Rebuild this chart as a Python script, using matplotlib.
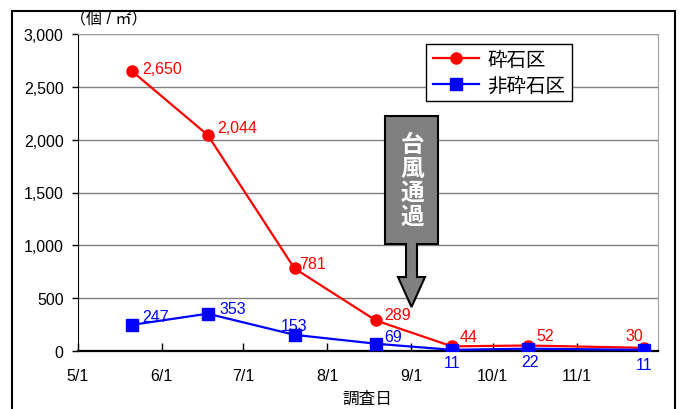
import numpy as np
import matplotlib
matplotlib.use("Agg")
import matplotlib.pyplot as plt
import matplotlib.dates as mdates
from matplotlib.patches import Polygon, Rectangle
from matplotlib.ticker import FuncFormatter

plt.rcParams['font.family'] = ['Liberation Sans', 'Noto Sans CJK JP', 'DejaVu Sans']

# survey dates and counts (individuals / m2)
dates = np.array(['2011-05-21', '2011-06-18', '2011-07-20', '2011-08-19',
                  '2011-09-16', '2011-10-14', '2011-11-26'], dtype='datetime64[D]')
gravel = [2650, 2044, 781, 289, 44, 52, 30]
non_gravel = [247, 353, 153, 69, 11, 22, 11]
month_ticks = np.array(['2011-05-01', '2011-06-01', '2011-07-01', '2011-08-01',
                        '2011-09-01', '2011-10-01', '2011-11-01'], dtype='datetime64[D]')

W, H = 683, 410
fig = plt.figure(figsize=(W / 100, H / 100), dpi=100)
ax = fig.add_axes([77.5 / W, 1 - 352 / H, (658 - 77.5) / W, (352 - 35) / H])

ax.plot(dates, gravel, color='#ff0000', lw=1.6, marker='o', ms=8, label='砕石区', zorder=3)
ax.plot(dates, non_gravel, color='#0000ff', lw=1.6, marker='s', ms=8, label='非砕石区', zorder=3)

# label offsets in pixels
red_off = [(10, 2), (10, 8), (5, 5), (8, 6), (8, 10), (9, 10), (-10, 12)]
blue_off = [(10, 8), (12, 5), (0, 9), (8, 7), (0, -13), (2, -13), (0, -15)]
for d, v, o in zip(dates, gravel, red_off):
    ax.annotate(f"{v:,}", (d, v), xytext=o, textcoords='offset pixels',
                color='#ff0000', fontsize=11.5, ha='left' if o[0] > 2 else 'center', va='center')
for d, v, o in zip(dates, non_gravel, blue_off):
    ax.annotate(f"{v:,}", (d, v), xytext=o, textcoords='offset pixels',
                color='#0000ff', fontsize=11.5, ha='left' if o[0] > 2 else 'center', va='center')

ax.set_ylim(0, 3000)
ax.set_yticks(range(0, 3001, 500))
ax.yaxis.set_major_formatter(FuncFormatter(lambda v, p: f"{int(v):,}"))
ax.set_xlim(np.datetime64('2011-05-01'), np.datetime64('2011-12-01'))
ax.set_xticks(month_ticks)
ax.xaxis.set_major_formatter(FuncFormatter(
    lambda v, p: f"{mdates.num2date(v).month}/{mdates.num2date(v).day}"))
ax.tick_params(axis='x', direction='in', length=6, width=1, labelsize=11.5, pad=12)
ax.tick_params(axis='y', direction='out', length=4, width=1, labelsize=11.5, pad=6)
ax.grid(axis='y', color='#808080', lw=1)
ax.set_axisbelow(True)
for s in ['top', 'right']:
    ax.spines[s].set_color('#a0a0a0')
ax.spines['left'].set_color('black')
ax.spines['bottom'].set_color('black')
ax.spines['bottom'].set_linewidth(1.6)

ax.set_xlabel('調査日', fontsize=12, labelpad=6)
fig.text(70 / W, 1 - 20 / H, '（個 / ㎡）', fontsize=11.5, ha='left', va='center')

leg = ax.legend(loc='upper left', bbox_to_anchor=(0.6, 0.968), borderaxespad=0,
                fancybox=False, edgecolor='black', fontsize=14, handlelength=2.4,
                handletextpad=0.4, labelspacing=0.35, borderpad=0.35, framealpha=1)
leg.get_frame().set_linewidth(1)

# typhoon arrow
pts = [(385, 117), (438, 117), (438, 245), (417, 245), (417, 278), (425, 278),
       (411.5, 308), (398, 278), (406, 278), (406, 245), (385, 245)]
fig.patches.append(Polygon([(x / W, 1 - y / H) for x, y in pts], closed=True,
                           transform=fig.transFigure, facecolor='#808080',
                           edgecolor='black', lw=1.5, zorder=5))
fig.text(412 / W, 1 - 181 / H, '台\n風\n通\n過', color='white', fontsize=17,
         fontweight='bold', ha='center', va='center', linespacing=1.05, zorder=6)

# outer frame
fig.patches.append(Rectangle((12 / W, -0.05), (675 - 12) / W, 1 - 12 / H + 0.05,
                             transform=fig.transFigure, fill=False,
                             edgecolor='black', lw=1.5))

fig.savefig('out.png', dpi=100)
